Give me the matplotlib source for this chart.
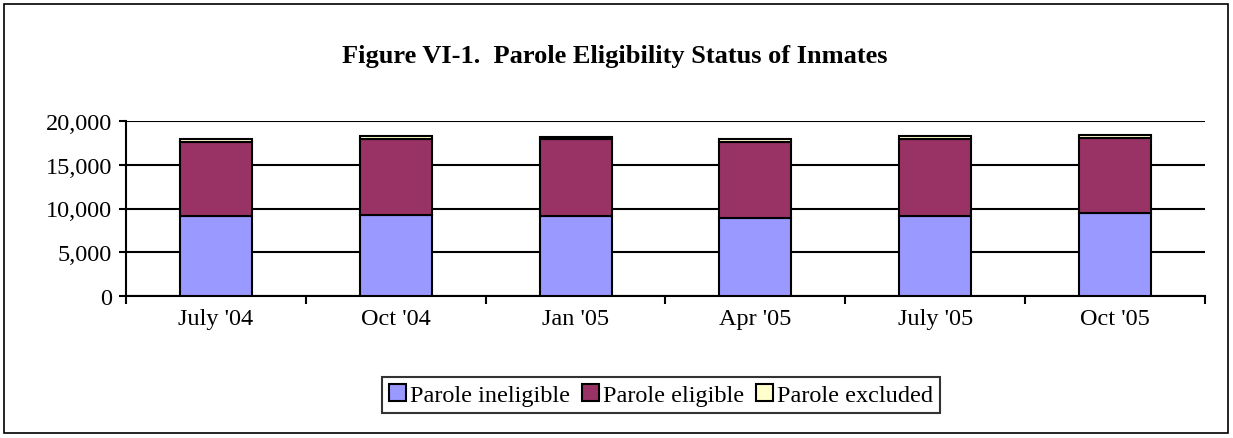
import matplotlib
matplotlib.use("Agg")
import matplotlib.pyplot as plt
import numpy as np
from matplotlib.patches import Rectangle

plt.rcParams['font.family'] = ['Liberation Serif', 'DejaVu Serif']

# data
quarters = ["July '04", "Oct '04", "Jan '05", "Apr '05", "July '05", "Oct '05"]
ineligible = [9100, 9300, 9100, 8950, 9200, 9500]
eligible = [8500, 8700, 8800, 8650, 8700, 8600]
excluded = [300, 300, 300, 300, 350, 350]

series_names = ["Parole ineligible", "Parole eligible", "Parole excluded"]
colors = ["#9999FF", "#993366", "#FFFFCC"]

fig = plt.figure(figsize=(12.33, 4.39), dpi=100)
ax = fig.add_axes([126 / 1233, 1 - 297 / 439, 1079 / 1233, 175 / 439])

# outer frame round the whole chart
fig.patches.append(Rectangle((4 / 1233, 5 / 439), 1224 / 1233, 429 / 439,
                             transform=fig.transFigure, fill=False,
                             edgecolor='black', linewidth=1.2))

x = np.arange(len(quarters))
bottom = np.zeros(len(quarters))
for vals, name, c in zip([ineligible, eligible, excluded], series_names, colors):
    ax.bar(x, vals, width=0.4, bottom=bottom, color=c, edgecolor='black',
           linewidth=1.5, label=name, zorder=3)
    bottom += np.array(vals)

ax.set_xlim(-0.5, len(quarters) - 0.5)
ax.set_ylim(0, 20000)
ax.set_yticks(np.arange(0, 20001, 5000))
ax.set_yticklabels([f"{v:,}" for v in range(0, 20001, 5000)], fontsize=17.5)
ax.yaxis.grid(True, color='black', linewidth=1.5, zorder=0)
ax.set_axisbelow(True)

ax.set_xticks(x)
ax.set_xticklabels(quarters, fontsize=17.5)
ax.tick_params(axis='x', length=0, pad=9)
ax.set_xticks(np.arange(-0.5, len(quarters)), minor=True)
ax.tick_params(axis='x', which='minor', length=6, width=1.5, direction='out')
ax.tick_params(axis='y', length=5, width=1.5, direction='out', pad=5)

for side in ['top', 'right']:
    ax.spines[side].set_visible(False)
for side in ['left', 'bottom']:
    ax.spines[side].set_linewidth(1.5)

fig.text(615 / 1233, 1 - 56 / 439, "Figure VI-1.  Parole Eligibility Status of Inmates",
         ha='center', va='center', fontsize=19, fontweight='bold')

leg = fig.legend(loc='center', bbox_to_anchor=(661 / 1233, 1 - 396 / 439),
                 ncol=3, fontsize=17.5, frameon=True, fancybox=False,
                 edgecolor='black', handlelength=0.7, handleheight=0.7,
                 handletextpad=0.15, columnspacing=0.5, borderpad=0.3)
leg.get_frame().set_linewidth(1.5)

fig.savefig("out.png", dpi=100)
